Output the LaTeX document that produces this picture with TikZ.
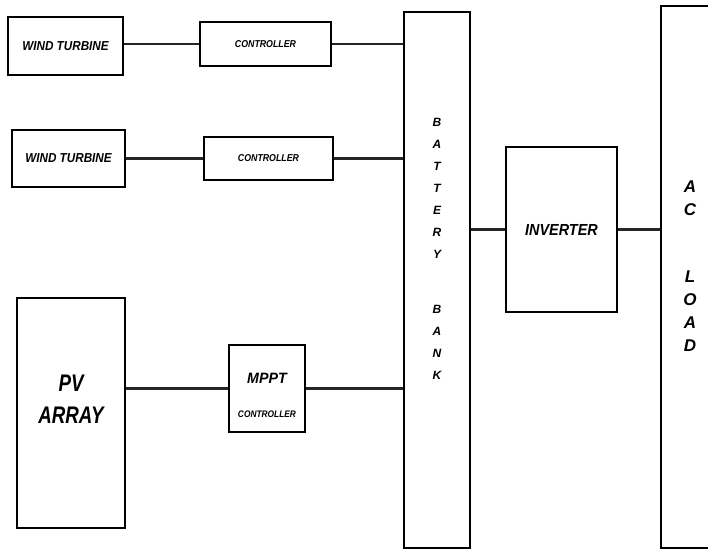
\documentclass[tikz,border=0pt]{standalone}
\usepackage{fontspec}
\usepackage{graphicx}
\setmainfont{Liberation Sans}
\tikzset{
  blk/.style={draw=black, line width=2.6pt, fill=white, inner sep=0pt, align=center, font=\bfseries\itshape},
  conn/.style={draw=black!85, line width=2.2pt},
  txt/.style={inner sep=0pt, align=center, font=\bfseries\itshape}
}
\begin{document}
\begin{tikzpicture}[x=1pt,y=-1pt]
\clip (0,0) rectangle (708,550);
\fill[white] (0,0) rectangle (708,550);
% boxes
\node[blk, minimum width=115pt, minimum height=58pt] (wt1) at (65.5,46) {\fontsize{13}{15}\selectfont\scalebox{0.9}[1]{WIND TURBINE}};
\node[blk, minimum width=131pt, minimum height=44pt] (c1) at (265.5,44) {\fontsize{10}{12}\selectfont\scalebox{0.88}[1]{CONTROLLER}};
\node[blk, minimum width=113pt, minimum height=57pt] (wt2) at (68.5,158.5) {\fontsize{13}{15}\selectfont\scalebox{0.9}[1]{WIND TURBINE}};
\node[blk, minimum width=129pt, minimum height=43pt] (c2) at (268.5,158.5) {\fontsize{10}{12}\selectfont\scalebox{0.88}[1]{CONTROLLER}};
\node[blk, minimum width=108pt, minimum height=230pt] (pv) at (71,413) {};
\node[txt, font=\bfseries\itshape\fontsize{24}{32}\selectfont] (pvt) at ([yshift=14pt]pv.center) {\scalebox{0.78}[1]{PV}\\\scalebox{0.78}[1]{ARRAY}};
\node[blk, minimum width=76pt, minimum height=87pt] (mppt) at (267,388.5) {};
\node[txt] (mpptt) at ([yshift=-6.5pt]mppt.center) {\fontsize{15}{18}\selectfont\scalebox{0.95}[1]{MPPT}\\[22pt]\fontsize{9.5}{12}\selectfont\scalebox{0.88}[1]{CONTROLLER}};
\node[blk, minimum width=66pt, minimum height=536pt] (bat) at (437,280) {};
\node[txt, font=\bfseries\itshape\fontsize{12}{22}\selectfont] (batt) at ([yshift=31pt]bat.center) {B\\A\\T\\T\\E\\R\\Y\\[33pt]B\\A\\N\\K};
\node[blk, minimum width=111pt, minimum height=165pt] (inv) at (561.5,229.5) {\fontsize{16}{18}\selectfont\scalebox{0.9}[1]{INVERTER}};
\node[blk, minimum width=58pt, minimum height=542pt] (ac) at (690,277) {};
\node[txt, font=\bfseries\itshape\fontsize{17}{23}\selectfont] (act) at ([yshift=10.5pt]ac.center) {A\\C\\[44pt]L\\O\\A\\D};
% connectors
\draw[conn] (c1.west -| wt1.east) -- (c1.west);
\draw[conn] (c1.east) -- (c1.east -| bat.west);
\draw[conn] (c2.west -| wt2.east) -- (c2.west);
\draw[conn] (c2.east) -- (c2.east -| bat.west);
\draw[conn] (mppt.west -| pv.east) -- (mppt.west);
\draw[conn] (mppt.east) -- (mppt.east -| bat.west);
\draw[conn] (inv.west -| bat.east) -- (inv.west);
\draw[conn] (inv.east) -- (inv.east -| ac.west);
\end{tikzpicture}
\end{document}
